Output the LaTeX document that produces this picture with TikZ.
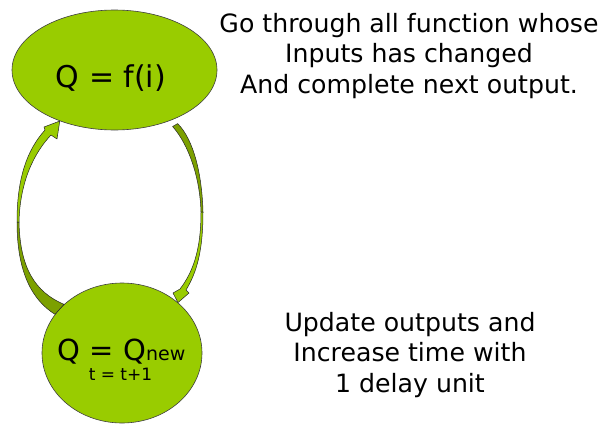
\documentclass[tikz,border=0pt]{standalone}
\usepackage{fontspec}
\setmainfont{DejaVu Sans}
\usetikzlibrary{shapes.geometric, calc}

\definecolor{leaf}{RGB}{153,204,0}
\definecolor{leafdark}{RGB}{124,160,0}

\tikzset{
  blob/.style={ellipse, draw=black!75, line width=0.6pt, fill=leaf, inner sep=0pt},
  bandfront/.style={fill=leaf, draw=black!85, line width=0.5pt, line join=round},
  bandback/.style={fill=leafdark, draw=black!85, line width=0.5pt, line join=round},
  note/.style={align=center, inner sep=0pt, anchor=north, font=\fontsize{25.2}{30.5}\selectfont}
}

\begin{document}
\begin{tikzpicture}[x=1pt, y=-1pt]
    \useasboundingbox (0,0) rectangle (604,423);

    % the two states
    \node[blob, minimum width=205pt, minimum height=120pt] (eval) at (114.5,70) {};
    \node[blob, minimum width=160pt, minimum height=140pt] (update) at (122,353) {};

    \node[anchor=base, inner sep=0pt, font=\fontsize{30}{30}\selectfont] (evaltext) at (111,87) {Q = f(i)};
    \node[anchor=base, inner sep=0pt, font=\fontsize{29}{29}\selectfont] (updatetext) at (121.5,360)
        {Q = Q{\fontsize{19}{19}\selectfont new}};
    \node[anchor=base, inner sep=0pt, font=\fontsize{17}{17}\selectfont] (ticktext) at (120.5,380) {t = t+1};

    % notes on the right
    \node[note] (evalnote) at (409,13) {Go through all function whose\\Inputs has changed\\And complete next output.};
    \node[note] (updatenote) at (410,312) {Update outputs and\\Increase time with\\1 delay unit};

    % update -> eval (left side)
    \coordinate (lt1) at (update.150);
    \coordinate (lt2) at (update.140);
    \coordinate (ltip) at (eval.223);
    \path[bandback] (lt1) .. controls (32,300) and (17,272) .. (17,222)
        -- (19,222) .. controls (20,268) and (35,292) .. (lt2) -- cycle;
    \path[bandfront] (17,222) .. controls (17,178) and (27,150) .. (45,130)
        -- (44,127) -- (ltip) -- (57,139) -- (51,135)
        .. controls (35,152) and (20,180) .. (19,222) -- cycle;

    % eval -> update (right side)
    \coordinate (rt1) at ($(eval.318)+(2,6)$);
    \coordinate (rt2) at ($(eval.323)+(0,6)$);
    \coordinate (rtip) at (update.42);
    \path[bandback] (rt1) .. controls (189,145) and (200,178) .. (201,212)
        -- (203,212) .. controls (202,175) and (194,140) .. (rt2) -- cycle;
    \path[bandfront] (201,212) .. controls (201,250) and (193,272) .. (180,289)
        -- (173,293) -- (rtip) -- (189,293) -- (186,290)
        .. controls (197,272) and (203,250) .. (203,212) -- cycle;
\end{tikzpicture}
\end{document}
